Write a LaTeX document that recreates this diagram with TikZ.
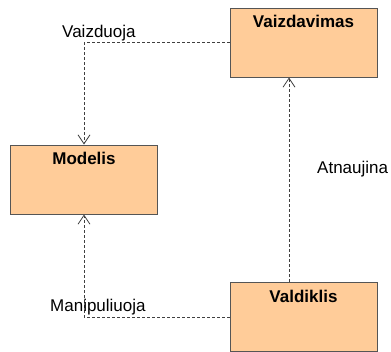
\documentclass[tikz,border=0pt]{standalone}
\usepackage{fontspec}
\setmainfont{Liberation Sans}
\usetikzlibrary{arrows.meta}
\definecolor{boxfill}{HTML}{FFCC99}
\definecolor{edge}{HTML}{555555}
\definecolor{wire}{HTML}{404040}
\begin{document}
\begin{tikzpicture}[x=1pt,y=-1pt,
  box/.style={draw=edge, line width=1pt, fill=boxfill, minimum width=147pt, minimum height=69pt, inner sep=0pt},
  title/.style={font=\fontsize{17}{20}\selectfont\bfseries, anchor=base, inner sep=0pt},
  tag/.style={font=\fontsize{17}{20}\selectfont, anchor=base west, inner sep=0pt},
  link/.style={draw=wire, line width=0.8pt, dash pattern=on 3pt off 2pt, -{Straight Barb[length=9pt,width=12pt]}}]
\useasboundingbox (0,0) rectangle (391,351);
% the three components
\node[box] (view)  at (303.5,42.5) {};
\node[box] (model) at (84,179.5) {};
\node[box] (ctrl)  at (303.5,317) {};
\node[title] (viewT)  at ([yshift=-20pt]view.north)  {Vaizdavimas};
\node[title] (modelT) at ([yshift=-20pt]model.north) {Modelis};
\node[title] (ctrlT)  at ([yshift=-20pt]ctrl.north)  {Valdiklis};
% dependencies
\draw[link] (view.west) -| (model.north);
\draw[link] (ctrl.west) -| (model.south);
\draw[link] ([xshift=-14.5pt]ctrl.north) -- ([xshift=-14.5pt]view.south);
% relation names
\node[tag] (lblA) at (62,37)  {Vaizduoja};
\node[tag] (lblB) at (317,173) {Atnaujina};
\node[tag] (lblC) at (50,311)  {Manipuliuoja};
\end{tikzpicture}
\end{document}
